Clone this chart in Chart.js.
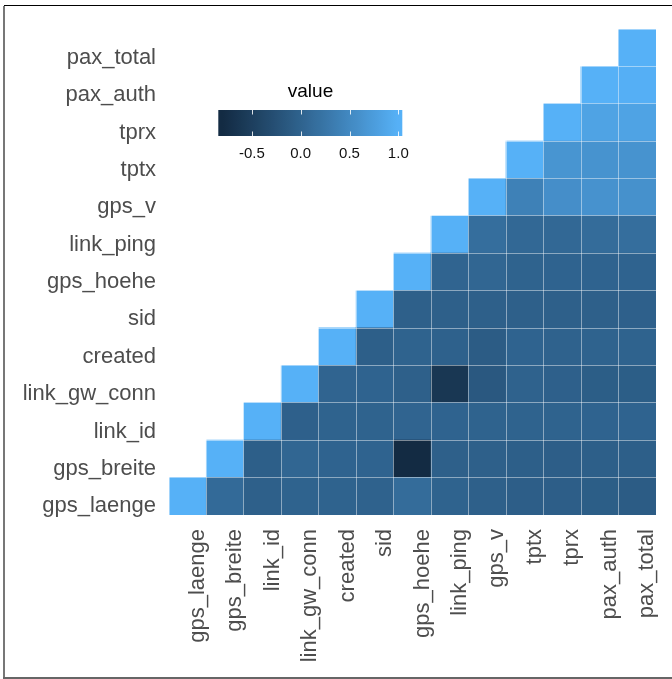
<!DOCTYPE html>
<html>
<head>
<meta charset="utf-8">
<script src="https://cdn.jsdelivr.net/npm/chart.js@4.4.1/dist/chart.umd.min.js"></script>
<style>
  html, body { margin: 0; padding: 0; background: #ffffff; }
  #wrap { position: relative; width: 672px; height: 679px; overflow: hidden; background: #ffffff; }
  #chart { position: absolute; left: 0; top: 0; }
  .ftop { position: absolute; left: 4px; top: 5px; width: 668px; height: 0; border-top: 1.5px solid #000; }
  .fleft { position: absolute; left: 3px; top: 6px; width: 0; height: 673px; border-left: 2px solid #777; }
  .fbot { position: absolute; left: 3px; top: 677px; width: 669px; height: 0; border-top: 2px solid #666; }
</style>
</head>
<body>
<div id="wrap">
  <canvas id="chart" width="672" height="679"></canvas>
  <div class="ftop"></div><div class="fleft"></div><div class="fbot"></div>
</div>
<script>
// ---- data ----
const variables = ['gps_laenge','gps_breite','link_id','link_gw_conn','created','sid',
                   'gps_hoehe','link_ping','gps_v','tptx','tprx','pax_auth','pax_total'];

// lower triangle: row r holds correlation of variables[r] with variables[r..12]
const row_gps_laenge   = [1, 0.10, -0.04, 0.00, 0.00, -0.01, 0.12, 0.00, -0.04, -0.06, -0.06, -0.07, -0.09];
const row_gps_breite   = [1, -0.05, 0.04, 0.01, 0.01, -0.80, -0.04, -0.04, -0.05, -0.06, -0.05, -0.05];
const row_link_id      = [1, -0.03, 0.00, 0.00, 0.02, 0.01, 0.00, 0.00, 0.00, 0.01, 0.01];
const row_link_gw_conn = [1, 0.02, 0.01, -0.04, -0.62, -0.14, -0.01, -0.03, -0.07, -0.07];
const row_created      = [1, -0.05, 0.00, -0.02, -0.09, 0.01, -0.01, 0.00, 0.00];
const row_sid          = [1, -0.04, -0.04, -0.04, -0.04, -0.04, -0.04, -0.03];
const row_gps_hoehe    = [1, 0.02, 0.04, 0.00, 0.01, 0.01, 0.01];
const row_link_ping    = [1, 0.15, 0.07, 0.07, 0.12, 0.15];
const row_gps_v        = [1, 0.40, 0.57, 0.62, 0.60];
const row_tptx         = [1, 0.65, 0.63, 0.63];
const row_tprx         = [1, 0.83, 0.83];
const row_pax_auth     = [1, 0.98];
const row_pax_total    = [1];

const legendTicks = [-0.5, 0.0, 0.5, 1.0];
const legendTitle = 'value';
const valueMin = -0.80;
const valueMax = 1.0;

const rows = [row_gps_laenge, row_gps_breite, row_link_id, row_link_gw_conn, row_created, row_sid,
              row_gps_hoehe, row_link_ping, row_gps_v, row_tptx, row_tprx, row_pax_auth, row_pax_total];

// ---- colour scale (Lab interpolation, like ggplot's default gradient) ----
const LOW = '#132B43', HIGH = '#56B1F7';
function hex2rgb(h){ return [parseInt(h.slice(1,3),16), parseInt(h.slice(3,5),16), parseInt(h.slice(5,7),16)]; }
function s2l(c){ c/=255; return c<=0.04045 ? c/12.92 : Math.pow((c+0.055)/1.055,2.4); }
function l2s(c){ const v = c<=0.0031308 ? 12.92*c : 1.055*Math.pow(c,1/2.4)-0.055; return Math.max(0,Math.min(255,Math.round(v*255))); }
const Xn=0.95047, Yn=1.0, Zn=1.08883;
function f(t){ return t>0.008856 ? Math.cbrt(t) : 7.787*t+16/116; }
function finv(t){ return t>0.206893 ? t*t*t : (t-16/116)/7.787; }
function rgb2lab(rgb){
  const [r,g,b] = rgb.map(s2l);
  const X=(0.4124*r+0.3576*g+0.1805*b)/Xn, Y=(0.2126*r+0.7152*g+0.0722*b)/Yn, Z=(0.0193*r+0.1192*g+0.9505*b)/Zn;
  return [116*f(Y)-16, 500*(f(X)-f(Y)), 200*(f(Y)-f(Z))];
}
function lab2rgb(lab){
  const fy=(lab[0]+16)/116, fx=fy+lab[1]/500, fz=fy-lab[2]/200;
  const X=finv(fx)*Xn, Y=finv(fy)*Yn, Z=finv(fz)*Zn;
  const r= 3.2406*X-1.5372*Y-0.4986*Z, g=-0.9689*X+1.8758*Y+0.0415*Z, b=0.0557*X-0.2040*Y+1.0570*Z;
  return [l2s(r),l2s(g),l2s(b)];
}
const labLow = rgb2lab(hex2rgb(LOW)), labHigh = rgb2lab(hex2rgb(HIGH));
function colorAt(t){
  t = Math.max(0, Math.min(1, t));
  const lab = labLow.map((v,i)=> v + (labHigh[i]-v)*t);
  const c = lab2rgb(lab);
  return `rgb(${c[0]},${c[1]},${c[2]})`;
}
function colorFor(v){ return colorAt((v - valueMin)/(valueMax - valueMin)); }

// ---- datasets: one per row, floating bars spanning the cell ----
const datasets = rows.map((vals, r) => ({
  label: variables[r],
  data: variables.map((_, c) => c >= r ? [r - 0.5, r + 0.5] : null),
  backgroundColor: variables.map((_, c) => c >= r ? colorFor(vals[c - r]) : 'rgba(0,0,0,0)'),
  borderWidth: 0,
  grouped: false,
  barPercentage: 1.0,
  categoryPercentage: 1.0,
  inflateAmount: 0.5
}));

const FONT = "'Liberation Sans', Arial, Helvetica, sans-serif";
const gridCol = 'rgba(255,255,255,0.45)';

// legend geometry
const LEG = { x0: 218.3, x1: 402.3, y0: 110, y1: 136, zero: 300.7, perUnit: 97.6 };

const legendPlugin = {
  id: 'colorbarLegend',
  afterDraw(chart){
    const ctx = chart.ctx;
    ctx.save();
    ctx.fillStyle = '#000';
    ctx.font = `19px ${FONT}`;
    ctx.textAlign = 'center';
    ctx.textBaseline = 'alphabetic';
    ctx.fillText(legendTitle, 310.5, 97);
    const vLeft = (LEG.x0 - LEG.zero)/LEG.perUnit, vRight = (LEG.x1 - LEG.zero)/LEG.perUnit;
    const grad = ctx.createLinearGradient(LEG.x0, 0, LEG.x1, 0);
    const N = 40;
    for (let i=0;i<=N;i++){
      const v = vLeft + (vRight - vLeft)*i/N;
      grad.addColorStop(i/N, colorFor(v));
    }
    ctx.fillStyle = grad;
    ctx.fillRect(LEG.x0, LEG.y0, LEG.x1-LEG.x0, LEG.y1-LEG.y0);
    ctx.strokeStyle = 'rgba(255,255,255,0.85)';
    ctx.lineWidth = 1;
    ctx.font = `15px ${FONT}`;
    ctx.fillStyle = '#111';
    legendTicks.forEach(t => {
      const x = Math.round(LEG.zero + t*LEG.perUnit) + 0.5;
      ctx.beginPath();
      ctx.moveTo(x, LEG.y0); ctx.lineTo(x, LEG.y0 + 4.5);
      ctx.moveTo(x, LEG.y1); ctx.lineTo(x, LEG.y1 - 4.5);
      ctx.stroke();
      ctx.fillText(t.toFixed(1), LEG.zero + t*LEG.perUnit, 157.5);
    });
    ctx.restore();
  }
};

new Chart(document.getElementById('chart'), {
  type: 'bar',
  data: { labels: variables, datasets },
  options: {
    responsive: false,
    animation: false,
    events: [],
    layout: { padding: { top: 29, right: 16, left: 0, bottom: 0 } },
    plugins: { legend: { display: false }, tooltip: { enabled: false } },
    scales: {
      x: {
        type: 'category',
        offset: true,
        border: { display: false },
        grid: { display: true, offset: true, drawTicks: false, color: gridCol, lineWidth: 1, z: 1 },
        ticks: {
          autoSkip: false, minRotation: 90, maxRotation: 90,
          color: '#4d4d4d', font: { family: FONT, size: 22 },
          padding: 14, labelOffset: 10
        },
        afterFit(s){ s.height = 164; s.paddingLeft = 0; s.paddingRight = 0; }
      },
      y: {
        type: 'linear',
        min: -0.5, max: 12.5,
        border: { display: false },
        afterBuildTicks(s){
          const t = [];
          for (let i = 0; i <= 26; i++) t.push({ value: -0.5 + i*0.5 });
          s.ticks = t;
        },
        grid: {
          display: true, drawTicks: false, lineWidth: 1, z: 1,
          color: (c) => (c.tick && Math.abs(c.tick.value % 1) === 0.5) ? gridCol : 'rgba(0,0,0,0)'
        },
        ticks: {
          autoSkip: false,
          color: '#4d4d4d', font: { family: FONT, size: 22 },
          padding: 13, labelOffset: 10,
          callback: (v) => Number.isInteger(v) ? variables[v] : ''
        },
        afterFit(s){ s.width = 169; s.paddingTop = 0; s.paddingBottom = 0; }
      }
    }
  },
  plugins: [legendPlugin]
});
</script>
</body>
</html>
